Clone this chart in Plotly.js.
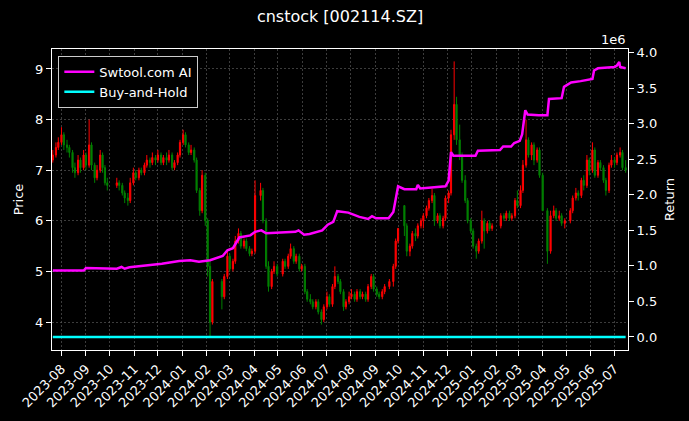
<!DOCTYPE html>
<html>
<head>
<meta charset="utf-8">
<script src="https://cdn.plot.ly/plotly-3.0.1.min.js"></script>
<style>
html,body{margin:0;padding:0;background:#000;}
#chart{width:689px;height:421px;}
</style>
</head>
<body>
<div id="chart"></div>
<script>
// ---- Candle data (~2 bars per week) ----
const dates = ["2023-07-21","2023-07-25","2023-07-28","2023-08-01","2023-08-04","2023-08-08","2023-08-11","2023-08-15","2023-08-18","2023-08-22","2023-08-25","2023-08-29","2023-09-01","2023-09-05","2023-09-08","2023-09-12","2023-09-15","2023-09-19","2023-09-22","2023-09-25","2023-09-28","2023-10-10","2023-10-13","2023-10-17","2023-10-20","2023-10-24","2023-10-27","2023-10-31","2023-11-03","2023-11-07","2023-11-10","2023-11-14","2023-11-17","2023-11-21","2023-11-24","2023-11-28","2023-12-01","2023-12-05","2023-12-08","2023-12-12","2023-12-15","2023-12-19","2023-12-22","2023-12-26","2023-12-29","2024-01-02","2024-01-05","2024-01-09","2024-01-12","2024-01-16","2024-01-19","2024-01-23","2024-01-26","2024-01-30","2024-02-02","2024-02-05","2024-02-08","2024-02-20","2024-02-23","2024-02-27","2024-03-01","2024-03-05","2024-03-08","2024-03-12","2024-03-15","2024-03-19","2024-03-22","2024-03-26","2024-03-29","2024-04-02","2024-04-09","2024-04-12","2024-04-16","2024-04-19","2024-04-23","2024-04-26","2024-04-30","2024-05-07","2024-05-10","2024-05-14","2024-05-17","2024-05-21","2024-05-24","2024-05-28","2024-05-31","2024-06-04","2024-06-07","2024-06-11","2024-06-14","2024-06-18","2024-06-21","2024-06-25","2024-06-28","2024-07-02","2024-07-05","2024-07-09","2024-07-12","2024-07-16","2024-07-19","2024-07-23","2024-07-26","2024-07-30","2024-08-02","2024-08-06","2024-08-09","2024-08-13","2024-08-16","2024-08-20","2024-08-23","2024-08-27","2024-08-30","2024-09-03","2024-09-06","2024-09-10","2024-09-13","2024-09-19","2024-09-24","2024-09-27","2024-09-30","2024-10-08","2024-10-11","2024-10-15","2024-10-18","2024-10-22","2024-10-25","2024-10-29","2024-11-01","2024-11-05","2024-11-08","2024-11-12","2024-11-15","2024-11-19","2024-11-22","2024-11-26","2024-11-29","2024-12-03","2024-12-06","2024-12-10","2024-12-13","2024-12-17","2024-12-20","2024-12-24","2024-12-27","2024-12-31","2025-01-03","2025-01-07","2025-01-10","2025-01-14","2025-01-17","2025-01-21","2025-01-24","2025-01-27","2025-02-07","2025-02-11","2025-02-14","2025-02-18","2025-02-21","2025-02-25","2025-02-28","2025-03-04","2025-03-07","2025-03-11","2025-03-14","2025-03-18","2025-03-21","2025-03-25","2025-03-28","2025-04-01","2025-04-07","2025-04-11","2025-04-15","2025-04-18","2025-04-22","2025-04-25","2025-04-29","2025-05-06","2025-05-09","2025-05-13","2025-05-16","2025-05-20","2025-05-23","2025-05-27","2025-05-30","2025-06-03","2025-06-06","2025-06-10","2025-06-13","2025-06-17","2025-06-20","2025-06-24","2025-06-27","2025-07-01","2025-07-04","2025-07-08","2025-07-11","2025-07-15"];
const openP  = [7.20,7.30,7.45,7.55,7.70,7.50,7.45,7.35,7.05,6.95,7.20,7.05,7.30,7.10,7.50,7.10,6.85,7.00,7.30,7.05,6.75,6.70,6.75,6.70,6.55,6.45,6.40,6.75,6.95,6.85,7.00,6.95,7.10,7.20,7.15,7.25,7.20,7.30,7.15,7.25,7.20,7.30,7.05,7.15,7.30,7.55,7.70,7.50,7.35,7.40,7.20,6.60,6.20,6.90,6.00,5.10,4.00,4.80,4.50,4.90,5.30,5.05,5.20,5.60,5.75,5.50,5.60,5.45,5.35,5.40,6.50,6.60,6.00,5.10,4.70,5.00,5.10,4.95,5.20,5.10,5.30,5.45,5.20,5.30,5.05,5.10,4.60,4.45,4.40,4.30,4.40,4.20,4.05,4.30,4.50,4.35,4.70,4.90,4.80,4.60,4.30,4.40,4.50,4.55,4.45,4.60,4.50,4.55,4.45,4.70,4.90,4.65,4.55,4.50,4.60,4.70,4.80,5.10,5.60,6.30,5.90,5.40,5.50,5.75,5.70,5.90,6.00,6.10,6.25,6.40,6.50,6.00,6.10,5.90,6.05,6.45,6.55,7.70,8.30,7.60,7.30,6.80,6.40,6.00,5.80,5.50,5.40,5.60,6.00,5.80,5.95,5.85,5.90,6.10,6.05,6.15,6.05,6.10,6.40,6.30,6.60,7.10,7.60,7.30,7.50,7.20,7.40,6.90,6.20,5.40,6.10,6.20,6.05,6.10,5.95,6.00,6.20,6.45,6.55,6.50,6.80,6.70,7.20,7.00,7.40,6.90,7.15,7.05,6.80,6.60,7.10,7.20,7.15,7.30,7.35,7.05];
const highP  = [7.40,7.55,7.65,7.85,7.75,7.60,7.50,7.40,7.15,7.30,7.25,7.40,7.35,8.00,7.55,7.15,7.10,7.40,7.35,7.10,6.85,6.85,6.80,6.75,6.60,6.55,6.85,7.05,7.00,7.05,7.05,7.15,7.30,7.25,7.35,7.30,7.40,7.35,7.30,7.35,7.40,7.35,7.20,7.35,7.60,7.80,7.75,7.55,7.50,7.45,7.25,6.65,7.00,6.95,6.05,5.20,4.85,4.85,4.95,5.40,5.35,5.25,5.70,5.85,5.80,5.65,5.65,5.50,5.45,6.80,6.75,6.65,6.05,5.20,5.05,5.20,5.15,5.25,5.25,5.35,5.55,5.50,5.35,5.35,5.15,5.15,4.65,4.55,4.45,4.45,4.45,4.25,4.35,4.60,4.55,4.75,5.10,4.95,4.85,4.65,4.45,4.60,4.65,4.60,4.65,4.65,4.60,4.60,4.75,4.95,4.95,4.70,4.60,4.65,4.75,4.85,5.15,5.65,5.85,6.30,5.95,5.55,5.80,5.85,5.95,6.05,6.15,6.30,6.45,6.63,6.55,6.15,6.15,6.10,6.50,6.60,7.80,9.15,8.45,7.90,7.35,6.90,6.45,6.05,5.85,5.55,5.65,6.20,6.05,6.00,6.00,5.95,6.15,6.15,6.20,6.20,6.15,6.45,6.60,6.70,7.20,8.00,7.65,7.55,7.55,7.45,7.45,6.95,6.25,6.20,6.30,6.25,6.20,6.15,6.05,6.25,6.50,6.65,6.60,6.85,6.90,7.30,7.25,7.55,7.45,7.20,7.20,7.10,6.85,7.15,7.30,7.25,7.35,7.45,7.40,7.20];
const lowP   = [7.15,7.25,7.40,7.50,7.40,7.35,7.25,6.95,6.85,6.90,6.95,7.00,7.00,7.05,7.00,6.75,6.80,6.95,6.95,6.70,6.60,6.65,6.60,6.50,6.35,6.30,6.35,6.70,6.80,6.80,6.90,6.90,7.05,7.05,7.10,7.10,7.15,7.10,7.10,7.10,7.15,7.00,7.00,7.10,7.25,7.50,7.45,7.30,7.30,7.15,6.55,6.10,6.15,5.90,4.90,3.70,3.95,4.25,4.45,4.85,5.00,5.00,5.15,5.55,5.45,5.45,5.40,5.30,5.30,5.35,6.40,5.95,5.05,4.60,4.65,4.95,4.90,4.90,5.05,5.05,5.25,5.15,5.15,5.00,5.00,4.55,4.40,4.35,4.25,4.25,4.15,3.95,4.00,4.25,4.30,4.30,4.65,4.75,4.55,4.22,4.25,4.35,4.45,4.40,4.40,4.45,4.45,4.40,4.40,4.65,4.60,4.50,4.45,4.45,4.55,4.65,4.70,5.05,5.55,5.70,5.30,5.30,5.45,5.60,5.65,5.85,5.85,6.05,6.20,6.35,5.90,5.95,5.85,5.85,6.00,6.35,6.50,7.60,7.50,7.20,6.75,6.35,5.95,5.75,5.45,5.25,5.35,5.55,5.45,5.75,5.80,5.80,5.85,6.00,6.00,6.00,6.00,6.05,6.25,6.25,6.55,7.05,7.25,7.20,7.10,7.15,6.85,6.20,5.15,5.35,6.05,6.00,6.00,5.90,5.85,5.95,6.15,6.40,6.40,6.45,6.60,6.65,6.90,6.95,6.85,6.85,7.00,6.75,6.50,6.55,7.05,7.05,7.10,7.25,7.00,6.95];
const closeP = [7.30,7.45,7.55,7.70,7.50,7.45,7.35,7.05,6.95,7.20,7.05,7.30,7.10,7.50,7.10,6.85,7.00,7.30,7.05,6.75,6.70,6.75,6.70,6.55,6.45,6.40,6.75,6.95,6.85,7.00,6.95,7.10,7.20,7.15,7.25,7.20,7.30,7.15,7.25,7.20,7.30,7.05,7.15,7.30,7.55,7.70,7.50,7.35,7.40,7.20,6.60,6.20,6.90,6.00,5.10,4.00,4.80,4.50,4.90,5.30,5.05,5.20,5.60,5.75,5.50,5.60,5.45,5.35,5.40,6.50,6.60,6.00,5.10,4.70,5.00,5.10,4.95,5.20,5.10,5.30,5.45,5.20,5.30,5.05,5.10,4.60,4.45,4.40,4.30,4.40,4.20,4.05,4.30,4.50,4.35,4.70,4.90,4.80,4.60,4.30,4.40,4.50,4.55,4.45,4.60,4.50,4.55,4.45,4.70,4.90,4.65,4.55,4.50,4.60,4.70,4.80,5.10,5.60,5.85,5.90,5.40,5.50,5.75,5.70,5.90,6.00,6.10,6.25,6.40,6.50,6.00,6.10,5.90,6.05,6.45,6.55,7.70,8.30,7.60,7.30,6.80,6.40,6.00,5.80,5.50,5.40,5.60,6.00,5.80,5.95,5.85,5.90,6.10,6.05,6.15,6.05,6.10,6.40,6.30,6.60,7.10,7.60,7.30,7.50,7.20,7.40,6.90,6.20,5.40,6.10,6.20,6.05,6.10,5.95,6.00,6.20,6.45,6.55,6.50,6.80,6.70,7.20,7.00,7.40,6.90,7.15,7.05,6.80,6.60,7.10,7.20,7.15,7.30,7.35,7.05,7.00];

// ---- Strategy equity (Swtool.com AI) ----
const stratDates = ["2023-07-21","2023-08-29","2023-09-01","2023-10-10","2023-10-16","2023-10-20","2023-10-26","2023-11-15","2023-12-06","2023-12-28","2024-01-11","2024-01-22","2024-02-05","2024-02-21","2024-02-27","2024-03-05","2024-03-11","2024-03-13","2024-03-27","2024-04-02","2024-04-10","2024-04-16","2024-05-23","2024-05-27","2024-06-03","2024-06-10","2024-06-26","2024-07-03","2024-07-10","2024-07-15","2024-07-29","2024-08-12","2024-08-23","2024-08-28","2024-09-02","2024-09-18","2024-09-24","2024-09-30","2024-10-08","2024-10-23","2024-10-25","2024-10-28","2024-11-29","2024-12-03","2024-12-06","2024-12-09","2025-01-06","2025-01-09","2025-02-06","2025-02-10","2025-02-20","2025-02-24","2025-03-03","2025-03-06","2025-03-10","2025-03-13","2025-03-27","2025-04-07","2025-04-09","2025-04-25","2025-04-28","2025-05-07","2025-05-19","2025-06-03","2025-06-05","2025-06-10","2025-07-01","2025-07-04","2025-07-07","2025-07-08","2025-07-15"];
const stratValues = [935000,935000,970000,960000,985000,960000,980000,1000000,1030000,1070000,1080000,1060000,1080000,1140000,1220000,1250000,1360000,1400000,1430000,1480000,1500000,1460000,1480000,1500000,1440000,1450000,1500000,1580000,1620000,1770000,1750000,1690000,1660000,1700000,1670000,1670000,1760000,2120000,2080000,2080000,2140000,2090000,2120000,2200000,2600000,2550000,2550000,2620000,2630000,2680000,2680000,2730000,2760000,2850000,3190000,3130000,3120000,3120000,3350000,3360000,3520000,3580000,3600000,3630000,3750000,3780000,3800000,3820000,3870000,3800000,3780000];

// ---- Buy-and-Hold (ratio, tiny on the 1e6 scale) ----
const bhDates = ["2023-07-21","2023-08-31","2023-09-28","2023-10-31","2023-11-30","2023-12-29","2024-01-31","2024-02-29","2024-03-29","2024-04-30","2024-05-31","2024-06-28","2024-07-31","2024-08-30","2024-09-30","2024-10-31","2024-11-29","2024-12-31","2025-01-27","2025-02-28","2025-03-31","2025-04-30","2025-05-30","2025-06-30","2025-07-15"];
const bhValues = [1.00,0.97,0.92,0.95,0.99,1.03,0.82,0.71,0.74,0.68,0.70,0.59,0.62,0.64,0.80,0.82,0.88,0.79,0.81,0.86,0.90,0.82,0.96,0.98,0.96];

const retTicks = [0,500000,1000000,1500000,2000000,2500000,3000000,3500000,4000000];
const retTickText = ["0.0","0.5","1.0","1.5","2.0","2.5","3.0","3.5","4.0"];

const FONT = "DejaVu Sans, Liberation Sans, sans-serif";

const traces = [
  {
    type: "candlestick",
    x: dates, open: openP, high: highP, low: lowP, close: closeP,
    increasing: {line: {color: "#ff0000", width: 1}, fillcolor: "#ff0000"},
    decreasing: {line: {color: "#008000", width: 1}, fillcolor: "#008000"},
    whiskerwidth: 0,
    showlegend: false,
    xaxis: "x", yaxis: "y",
    hoverinfo: "skip"
  },
  {
    type: "scatter", mode: "lines",
    x: stratDates, y: stratValues,
    name: "Swtool.com AI",
    line: {color: "#ff00ff", width: 2.5},
    xaxis: "x", yaxis: "y2"
  },
  {
    type: "scatter", mode: "lines",
    x: bhDates, y: bhValues,
    name: "Buy-and-Hold",
    line: {color: "#00ffff", width: 2.5},
    xaxis: "x", yaxis: "y2"
  }
];

const layout = {
  width: 689, height: 421,
  paper_bgcolor: "#000", plot_bgcolor: "#000",
  font: {family: FONT, color: "#fff", size: 13},
  margin: {l: 52, r: 61, t: 49, b: 71, pad: 0},
  title: {text: "cnstock [002114.SZ]", font: {family: FONT, size: 16, color: "#fff"},
          x: 0.5, xref: "paper", xanchor: "center", y: 0.962, yref: "container", yanchor: "middle"},
  showlegend: true,
  legend: {x: 0.011, y: 0.977, xanchor: "left", yanchor: "top",
           bgcolor: "#000", bordercolor: "#cccccc", borderwidth: 1,
           font: {family: FONT, size: 13, color: "#fff"}},
  xaxis: {
    type: "date",
    range: ["2023-07-20", "2025-07-18"],
    rangeslider: {visible: false},
    tickformat: "%Y-%m", dtick: "M1", tick0: "2023-08-01",
    tickangle: -45,
    ticks: "outside", ticklen: 5, tickcolor: "#fff",
    tickfont: {family: FONT, size: 13, color: "#fff"},
    showline: true, linecolor: "#fff", linewidth: 1.2, mirror: true,
    showgrid: true, gridcolor: "#555555", griddash: "2px,2px", gridwidth: 0.7,
    zeroline: false
  },
  yaxis: {
    range: [3.447, 9.395],
    tickvals: [4,5,6,7,8,9],
    ticks: "outside", ticklen: 5, tickcolor: "#fff",
    tickfont: {family: FONT, size: 13, color: "#fff"},
    title: {text: "Price", font: {family: FONT, size: 13, color: "#fff"}, standoff: 8},
    showline: true, linecolor: "#fff", linewidth: 1.2, mirror: true,
    showgrid: true, gridcolor: "#555555", griddash: "2px,2px", gridwidth: 0.7,
    zeroline: false
  },
  yaxis2: {
    overlaying: "y", side: "right",
    range: [-183000, 4052000],
    tickvals: retTicks, ticktext: retTickText,
    ticks: "outside", ticklen: 5, tickcolor: "#fff",
    tickfont: {family: FONT, size: 13, color: "#fff"},
    title: {text: "Return", font: {family: FONT, size: 13, color: "#fff"}, standoff: 8},
    showgrid: false, zeroline: false, showline: false
  },
  annotations: [
    {text: "1e6", xref: "paper", yref: "paper", x: 1, y: 1, xanchor: "right", yanchor: "bottom",
     yshift: 0, showarrow: false, font: {family: FONT, size: 13, color: "#fff"}}
  ]
};

Plotly.newPlot("chart", traces, layout, {displayModeBar: false, staticPlot: true});
</script>
</body>
</html>
